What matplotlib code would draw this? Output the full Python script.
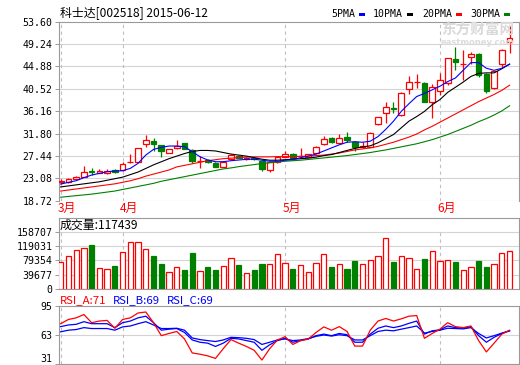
import matplotlib
matplotlib.use('Agg')
import matplotlib.pyplot as plt
import matplotlib.transforms as mtransforms
from matplotlib.patches import Rectangle
import numpy as np

plt.rcParams['font.family'] = ['Noto Sans CJK SC', 'DejaVu Sans']

# ---------------- data ----------------
title = '科士达[002518] 2015-06-12'
opens = [22.3, 22.3, 22.9, 23.4, 24.45, 24.2, 24.2, 24.7, 24.6, 26.2,
         26.3, 29.75, 30.3, 29.5, 28.1, 28.9, 29.9, 28.6, 26.4, 26.65,
         26.1, 25.35, 26.8, 27.5, 26.85, 27.1, 26.45, 24.7, 26.2, 27.3,
         27.9, 27.45, 27.3, 28.05, 29.75, 31.0, 30.0, 31.2, 30.2, 29.2,
         29.25, 33.6, 35.8, 36.75, 35.4, 40.4, 41.8, 41.7, 38.0, 40.1,
         41.6, 46.3, 45.3, 46.6, 47.3, 43.4, 40.6, 45.4, 49.65]
highs = [22.9, 23.2, 23.5, 25.5, 25.0, 24.8, 24.9, 24.9, 26.2, 27.9,
         29.0, 31.5, 30.9, 29.6, 28.8, 30.5, 30.0, 28.7, 27.5, 26.9,
         26.2, 26.4, 27.9, 27.6, 27.3, 27.2, 26.5, 26.3, 27.4, 28.4,
         28.0, 28.9, 27.9, 29.3, 31.3, 31.1, 31.7, 32.15, 30.3, 30.2,
         32.0, 35.1, 38.0, 38.0, 39.9, 43.0, 43.4, 41.8, 41.5, 43.5,
         46.5, 48.7, 48.0, 47.7, 47.4, 43.5, 44.0, 48.2, 52.7]
lows = [22.0, 22.2, 22.8, 23.3, 23.7, 24.1, 24.0, 24.1, 24.5, 26.1,
        26.2, 29.2, 28.4, 27.3, 28.0, 28.8, 28.7, 26.0, 25.0, 26.0,
        25.2, 25.2, 26.7, 27.0, 26.7, 26.7, 24.5, 24.3, 26.1, 27.2,
        26.6, 26.95, 27.2, 27.9, 29.6, 29.9, 29.9, 30.2, 28.3, 28.9,
        29.1, 33.5, 33.9, 35.7, 35.2, 39.5, 40.6, 37.9, 34.8, 39.3,
        41.2, 44.1, 42.2, 45.4, 42.8, 39.7, 40.5, 44.8, 47.4]
closes = [22.5, 23.0, 23.4, 24.4, 24.3, 24.5, 24.5, 24.3, 25.8, 26.3,
          28.9, 30.5, 29.7, 28.3, 28.7, 29.4, 28.8, 26.5, 26.5, 26.3,
          25.35, 26.3, 27.6, 27.1, 27.1, 26.8, 24.8, 26.2, 27.3, 27.9,
          26.95, 27.5, 27.75, 29.2, 30.7, 30.05, 31.0, 30.55, 29.25, 29.3,
          31.85, 34.95, 36.9, 36.65, 39.7, 41.85, 41.9, 38.0, 40.9, 42.3,
          46.4, 45.8, 45.35, 47.3, 43.2, 40.1, 43.95, 48.15, 50.3]
volumes = [74000, 90700, 107300, 112900, 123000, 57400, 54600, 63800, 101800, 129500,
           129500, 110100, 91600, 69400, 47200, 60100, 51800, 99900, 49000, 61000,
           52700, 62900, 85100, 66600, 44400, 52700, 69400, 69400, 97100, 72100,
           55500, 66600, 47200, 72100, 97100, 61000, 69400, 55500, 77700, 69400,
           80500, 91600, 141500, 75800, 91600, 86000, 55500, 83200, 105400, 77700,
           80500, 75800, 52700, 61000, 77700, 61000, 69400, 99900, 105400]
ma5 = [21.96, 22.29, 22.61, 23.2, 23.71, 24.04, 24.36, 24.49, 24.56, 25.01,
       25.99, 27.61, 28.71, 29.1, 29.36, 29.36, 29.23, 28.26, 27.28, 26.64,
       26.31, 26.31, 26.5, 26.64, 26.77, 26.8, 26.6, 26.4, 26.4, 26.6,
       26.7, 27.1, 27.4, 27.8, 28.4, 29.0, 29.6, 30.1, 30.2, 30.1,
       30.3, 31.2, 32.6, 34.2, 36.1, 37.6, 39.0, 39.6, 40.3, 41.0,
       41.9, 42.6, 44.1, 45.6, 45.6, 44.5, 44.1, 44.5, 45.3]
ma10 = [21.4, 21.6, 21.8, 22.0, 22.2, 22.4, 22.7, 23.0, 23.3, 23.8,
        24.3, 25.0, 25.7, 26.3, 26.9, 27.4, 27.9, 28.3, 28.5, 28.5,
        28.4, 28.1, 27.8, 27.6, 27.4, 27.1, 26.8, 26.6, 26.6, 26.7,
        26.8, 26.9, 27.0, 27.2, 27.5, 27.7, 28.1, 28.5, 28.9, 29.2,
        29.4, 30.0, 30.8, 31.6, 32.9, 34.2, 35.1, 36.1, 37.4, 38.4,
        39.8, 40.8, 41.8, 42.9, 43.5, 43.6, 43.6, 44.4, 45.3]
ma20 = [20.6, 20.8, 21.0, 21.2, 21.4, 21.6, 21.8, 22.0, 22.3, 22.6,
        23.0, 23.5, 23.9, 24.3, 24.7, 25.3, 25.6, 25.9, 26.2, 26.5,
        26.7, 26.9, 27.0, 27.1, 27.2, 27.25, 27.25, 27.25, 27.3, 27.3,
        27.3, 27.35, 27.4, 27.5, 27.6, 27.8, 28.0, 28.3, 28.6, 28.8,
        29.0, 29.3, 29.7, 30.1, 30.6, 31.1, 31.7, 32.5, 33.2, 34.0,
        34.8, 35.6, 36.4, 37.2, 38.0, 38.7, 39.4, 40.2, 41.2]
ma30 = [19.4, 19.55, 19.7, 19.85, 20.0, 20.2, 20.4, 20.6, 20.9, 21.2,
        21.5, 21.8, 22.1, 22.5, 22.8, 23.1, 23.4, 23.7, 24.0, 24.3,
        24.6, 24.9, 25.1, 25.35, 25.55, 25.75, 25.95, 26.1, 26.25, 26.4,
        26.5, 26.6, 26.75, 26.9, 27.05, 27.2, 27.35, 27.5, 27.7, 27.9,
        28.1, 28.35, 28.6, 28.9, 29.2, 29.5, 29.8, 30.2, 30.6, 31.1,
        31.6, 32.2, 32.8, 33.4, 34.1, 34.7, 35.4, 36.2, 37.2]
rsi_a = [75.1, 79.7, 81.5, 85.1, 76.2, 78.0, 78.7, 70.1, 79.7, 81.5,
         86.8, 87.9, 76.2, 62.0, 64.4, 66.6, 58.4, 43.1, 41.7, 39.9,
         37.1, 47.7, 57.7, 53.8, 50.2, 46.0, 35.3, 47.7, 57.3, 60.9,
         52.4, 56.6, 58.4, 65.5, 71.6, 68.0, 71.9, 66.6, 50.6, 50.6,
         68.0, 78.0, 80.8, 78.0, 80.4, 83.3, 84.0, 59.1, 64.4, 69.1,
         76.2, 71.9, 70.8, 72.6, 56.6, 44.2, 53.8, 63.7, 68.0]
rsi_b = [71.9, 73.7, 74.4, 77.3, 75.1, 75.1, 75.1, 70.8, 76.2, 78.0,
         81.5, 83.3, 76.2, 68.0, 69.1, 69.8, 65.5, 57.3, 54.8, 53.8,
         50.2, 53.8, 59.1, 58.4, 56.6, 54.8, 46.0, 52.0, 56.6, 59.1,
         54.8, 56.6, 58.4, 62.0, 63.7, 62.0, 64.4, 63.0, 54.8, 54.8,
         63.7, 70.1, 72.6, 70.8, 72.6, 75.5, 78.0, 63.7, 67.3, 68.4,
         72.6, 70.8, 70.1, 71.9, 62.0, 54.8, 60.2, 64.4, 67.3]
rsi_c = [66.2, 68.0, 68.7, 70.8, 69.8, 69.8, 69.8, 68.0, 71.6, 72.6,
         75.1, 77.3, 73.7, 69.8, 69.8, 70.1, 68.0, 59.5, 57.7, 56.6,
         55.6, 57.3, 60.2, 59.8, 59.1, 57.7, 52.4, 54.8, 57.3, 58.4,
         56.6, 57.3, 58.8, 61.3, 62.7, 61.6, 63.0, 62.0, 57.3, 57.3,
         62.0, 66.6, 68.0, 67.3, 69.1, 70.8, 72.6, 64.8, 66.6, 68.0,
         70.1, 69.8, 69.4, 70.8, 64.4, 59.5, 62.0, 64.8, 67.3]
month_labels = ['3月', '4月', '5月', '6月']
month_starts = [0, 8, 29, 49]
price_ticks = [18.72, 23.08, 27.44, 31.80, 36.16, 40.52, 44.88, 49.24, 53.60]
vol_ticks = [0, 39677, 79354, 119031, 158707]
rsi_ticks = [31, 63, 95]
vol_label = '成交量:117439'
rsi_labels = ['RSI_A:71', 'RSI_B:69', 'RSI_C:69']
ma_names = ['5PMA', '10PMA', '20PMA', '30PMA']

# ---------------- style ----------------
RED = '#ff0000'
GREEN = '#008000'
BLUE = '#0000ff'
GRID = '#d4d4d4'
SPINE = '#9a9a9a'
DASH = '#c0c0c0'
MONO = ['DejaVu Sans Mono']

W, H = 520, 365
fig = plt.figure(figsize=(W / 100, H / 100), dpi=100)
fig.patch.set_facecolor('white')


def ax_px(x0, y0, x1, y1):
    return fig.add_axes([x0 / W, 1 - y1 / H, (x1 - x0) / W, (y1 - y0) / H])


n = len(closes)
idx = np.arange(n)
XL = (-0.28, -0.28 + (519 - 58.5) / 7.74)
LEFT, RIGHT = 58.5, 519


def style_axis(ax, ticks, labels):
    ax.set_xlim(*XL)
    ax.set_xticks([])
    ax.set_yticks(ticks)
    ax.set_yticklabels(labels, family=MONO, fontsize=7.1)
    ax.tick_params(axis='y', length=3, width=0.7, color=SPINE, pad=1.2)
    for s in ax.spines.values():
        s.set_color(SPINE)
        s.set_linewidth(0.8)
    ax.set_facecolor('white')


# ---------------- price panel ----------------
axp = ax_px(LEFT, 21.5, RIGHT, 200.7)
style_axis(axp, price_ticks, ['%.2f' % t for t in price_ticks])
axp.set_ylim(price_ticks[0], price_ticks[-1])
axp.spines['bottom'].set_visible(False)
for t in price_ticks[:-1]:
    axp.axhline(t, color=GRID, lw=0.8, zorder=0)
for m in month_starts:
    axp.axvline(m, color=DASH, lw=0.8, ls=(0, (3, 3)), zorder=0)

bw = 0.74
for i in range(n):
    o, h, l, c = opens[i], highs[i], lows[i], closes[i]
    up = c >= o
    col = RED if up else GREEN
    lo_b, hi_b = min(o, c), max(o, c)
    hgt = max(hi_b - lo_b, 0.04)
    if up:
        axp.plot([i, i], [l, lo_b], color=col, lw=0.9, zorder=3, solid_capstyle='butt')
        axp.plot([i, i], [hi_b, h], color=col, lw=0.9, zorder=3, solid_capstyle='butt')
        axp.add_patch(Rectangle((i - bw / 2, lo_b), bw, hgt, facecolor='white',
                                edgecolor=col, lw=0.9, zorder=4))
    else:
        axp.plot([i, i], [l, h], color=col, lw=0.9, zorder=3, solid_capstyle='butt')
        axp.add_patch(Rectangle((i - bw / 2, lo_b), bw, hgt, facecolor=col,
                                edgecolor=col, lw=0.9, zorder=4))

for vals, col in zip([ma30, ma20, ma10, ma5], [GREEN, RED, 'black', BLUE]):
    axp.plot(idx, vals, color=col, lw=0.8, zorder=5)

# month labels
trans = mtransforms.blended_transform_factory(axp.transData, fig.transFigure)
for lab, m in zip(month_labels, month_starts):
    fig.text(m - 0.33, 1 - 208 / H, lab, transform=trans, color=RED,
             fontsize=8.6, ha='left', va='center')

# title & legend
fig.text(60 / W, 1 - 12.5 / H, title, fontsize=8.6, ha='left', va='center', color='black')
leg_x = [331, 373, 422, 470]
leg_c = [BLUE, 'black', RED, GREEN]
for name, x, col in zip(ma_names, leg_x, leg_c):
    fig.text(x / W, 1 - 14 / H, name, family=MONO, fontsize=7.1,
             ha='left', va='center', color='black')
    wlen = 6.0 * len(name)
    fig.patches.append(Rectangle(((x + wlen + 4) / W, 1 - 15.5 / H), 6 / W, 3 / H,
                                 transform=fig.transFigure, facecolor=col,
                                 edgecolor='none'))

# watermark
fig.text(478 / W, 1 - 30 / H, '东方财富网', fontsize=10.5, fontweight='bold',
         color='#d9d9d9', ha='center', va='center', zorder=0)
fig.text(478 / W, 1 - 42.5 / H, 'eastmoney.com', family=['DejaVu Sans'], fontsize=6.0,
         fontweight='bold', color='#dcdcdc', ha='center', va='center', zorder=0)

# ---------------- volume panel ----------------
vtop = 158707 * (289 - 218) / (289 - 231.7)
axv = ax_px(LEFT, 218, RIGHT, 289)
style_axis(axv, vol_ticks, [str(t) for t in vol_ticks])
axv.set_ylim(0, vtop)
for t in vol_ticks[1:]:
    axv.axhline(t, color=GRID, lw=0.8, zorder=0)
for m in month_starts:
    axv.plot([m, m], [0, vol_ticks[-1]], color=DASH, lw=0.8, ls=(0, (3, 3)), zorder=0)
up_mask = np.array(closes) >= np.array(opens)
vols = np.array(volumes)
axv.bar(idx[up_mask], vols[up_mask], width=0.68, facecolor='white',
        edgecolor=RED, lw=0.9, zorder=3)
axv.bar(idx[~up_mask], vols[~up_mask], width=0.68, facecolor=GREEN,
        edgecolor=GREEN, lw=0.9, zorder=3)
fig.text(60 / W, 1 - 225.5 / H, vol_label, fontsize=8.6, ha='left', va='center', color='black')

# ---------------- RSI panel ----------------
axr = ax_px(LEFT, 305.5, RIGHT, 364)
style_axis(axr, rsi_ticks, [str(t) for t in rsi_ticks])
axr.set_ylim(31, 95)
axr.get_yticklabels()[0].set_va('bottom')
axr.axhline(63, color=GRID, lw=0.8, zorder=0)
for m in month_starts:
    axr.axvline(m, color=DASH, lw=0.8, ls=(0, (3, 3)), zorder=0)
axr.plot(idx, rsi_c, color=BLUE, lw=0.9, zorder=3)
axr.plot(idx, rsi_b, color=BLUE, lw=0.9, zorder=3)
axr.plot(idx, rsi_a, color=RED, lw=0.9, zorder=4)
for lab, x, col in zip(rsi_labels, [60, 113, 167], [RED, BLUE, BLUE]):
    fig.text(x / W, 1 - 300 / H, lab, fontsize=8.2, ha='left', va='center', color=col)

fig.savefig('out.png', dpi=100, facecolor='white')
